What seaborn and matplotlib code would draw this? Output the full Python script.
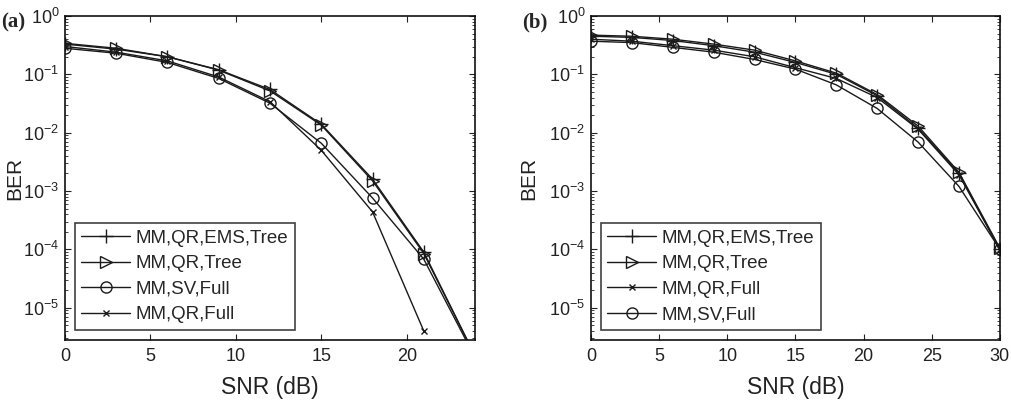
import numpy as np
import pandas as pd
import matplotlib
matplotlib.use("Agg")
import matplotlib.pyplot as plt
import seaborn as sns

# ---- data ----
snr_a = [0, 3, 6, 9, 12, 15, 18, 21, 24]
a_ems_tree = [0.33, 0.27, 0.20, 0.12, 0.055, 0.014, 0.0016, 9.0e-5, 1.5e-6]
a_qr_tree = [0.34, 0.28, 0.20, 0.118, 0.052, 0.0135, 0.0015, 8.5e-5, 1.5e-6]
a_sv_full = [0.28, 0.23, 0.16, 0.085, 0.032, 0.0066, 7.6e-4, 6.8e-5, 1.4e-6]
a_qr_full = [0.30, 0.24, 0.17, 0.09, 0.034, 0.005, 4.4e-4, 4.0e-6]

snr_b = [0, 3, 6, 9, 12, 15, 18, 21, 24, 27, 30]
b_ems_tree = [0.45, 0.43, 0.38, 0.31, 0.24, 0.16, 0.10, 0.043, 0.012, 0.0020, 1.0e-4]
b_qr_tree = [0.47, 0.45, 0.40, 0.33, 0.26, 0.17, 0.105, 0.045, 0.013, 0.0021, 1.05e-4]
b_qr_full = [0.40, 0.37, 0.31, 0.26, 0.20, 0.13, 0.085, 0.040, 0.0115, 0.0019, 1.0e-4]
b_sv_full = [0.37, 0.35, 0.29, 0.24, 0.18, 0.123, 0.066, 0.026, 0.0069, 0.0012, 1.0e-4]

yticks = [1e0, 1e-1, 1e-2, 1e-3, 1e-4, 1e-5]

sns.set_theme(style="ticks")
plt.rcParams["font.family"] = ["Liberation Sans", "DejaVu Sans"]
plt.rcParams["mathtext.fontset"] = "custom"
plt.rcParams["mathtext.rm"] = "Liberation Sans"
plt.rcParams["mathtext.it"] = "Liberation Sans"

# marker styles for each series
styles = {
    "MM,QR,EMS,Tree": dict(marker="+", markersize=10, markeredgewidth=1.0),
    "MM,QR,Tree": dict(marker=">", markersize=8, markeredgewidth=1.0),
    "MM,SV,Full": dict(marker="o", markersize=8, markeredgewidth=1.0),
    "MM,QR,Full": dict(marker="x", markersize=5, markeredgewidth=1.0),
}

fig = plt.figure(figsize=(10.12, 4.05), dpi=100)
ax_a = fig.add_axes([0.0642, 0.1605, 0.4052, 0.8])
ax_b = fig.add_axes([0.584, 0.1605, 0.404, 0.8])

panels = [
    (ax_a, snr_a, [("MM,QR,EMS,Tree", a_ems_tree), ("MM,QR,Tree", a_qr_tree),
                   ("MM,SV,Full", a_sv_full), ("MM,QR,Full", a_qr_full)],
     24, "(a)", -0.155, -0.1),
    (ax_b, snr_b, [("MM,QR,EMS,Tree", b_ems_tree), ("MM,QR,Tree", b_qr_tree),
                   ("MM,QR,Full", b_qr_full), ("MM,SV,Full", b_sv_full)],
     30, "(b)", -0.169, -0.13),
]

for ax, snr, series, xmax, tag, tag_x, ylab_x in panels:
    ax.set_yscale("log")
    for name, vals in series:
        sns.lineplot(x=snr[:len(vals)], y=vals, ax=ax, label=name,
                     color="#1a1a1a", linewidth=1.0,
                     markeredgecolor="#1a1a1a", markerfacecolor="none",
                     **styles[name])
    ax.set_xlim(0, xmax)
    ax.set_ylim(2.8e-6, 1)
    ax.set_xticks(range(0, xmax + 1, 5) if xmax == 30 else range(0, 21, 5))
    ax.set_yticks(yticks)
    ax.tick_params(axis="both", which="both", direction="in", top=True, right=True,
                   labelsize=13, colors="#222222", pad=6)
    ax.tick_params(axis="y", which="both", pad=4)
    ax.tick_params(axis="both", which="major", length=4, width=0.8)
    ax.tick_params(axis="y", which="minor", length=2, width=0.6)
    for sp in ax.spines.values():
        sp.set_linewidth(1.2)
        sp.set_color("#111111")
    ax.set_xlabel("SNR (dB)", fontsize=16.5, color="#222222", labelpad=8)
    ax.set_ylabel("BER", fontsize=15, color="#222222")
    ax.yaxis.set_label_coords(ylab_x, 0.5)
    leg = ax.legend(loc="lower left", bbox_to_anchor=(0.024, 0.031), borderaxespad=0,
                    fontsize=13.5, frameon=True, fancybox=False, edgecolor="#111111",
                    handlelength=2.6, labelspacing=0.45, borderpad=0.35,
                    handletextpad=0.3)
    leg.get_frame().set_linewidth(1.2)
    ax.text(tag_x, 0.98, tag, transform=ax.transAxes, fontsize=15, fontweight="bold",
            family=["Liberation Serif", "DejaVu Serif"], ha="left", va="center")

fig.savefig("out.png", dpi=100)
